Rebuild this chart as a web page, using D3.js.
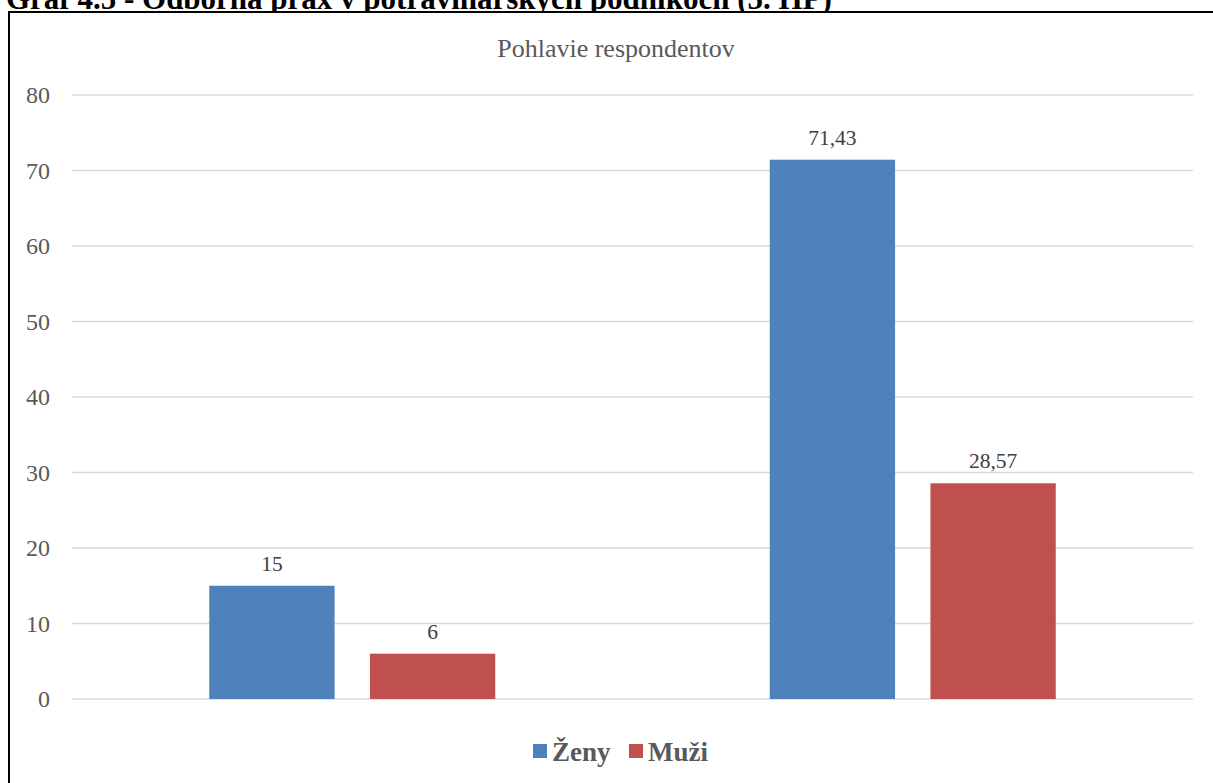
<!DOCTYPE html>
<html><head><meta charset="utf-8">
<script src="https://cdn.jsdelivr.net/npm/d3@7"></script>
<style>html,body{margin:0;padding:0;background:#fff;overflow:hidden}</style>
</head><body>
<script>
const categories = ["Skupina 1", "Skupina 2"];
const seriesNames = ["Ženy", "Muži"];
const zeny = [15, 71.43];
const muzi = [6, 28.57];
const yTicks = [0, 10, 20, 30, 40, 50, 60, 70, 80];
const colors = ["#4F81BD", "#C0504D"];

const W = 1213, H = 783;
const svg = d3.select("body").append("svg").attr("width", W).attr("height", H);
const serif = "'Liberation Serif','Times New Roman',serif";

// outer heading (cut off at top, as in the reference)
svg.append("text").attr("x", 6).attr("y", 9)
  .attr("font-family", serif).attr("font-weight", "bold").attr("font-size", 31)
  .attr("fill", "#000").text("Graf 4.5 - Odborná prax v potravinárskych podnikoch (5. HP)");
// frame
svg.append("rect").attr("x", 9).attr("y", 12).attr("width", 1240).attr("height", 800)
  .attr("fill", "#fff").attr("stroke", "#000").attr("stroke-width", 2);

const x0 = d3.scaleBand().domain(categories).range([72, 1193]);
const x1 = d3.scaleBand().domain(seriesNames).range([0, 286]).paddingInner(0.22);
const y = d3.scaleLinear().domain([0, 80]).range([699, 95]);

// gridlines
svg.append("g").selectAll("line").data(yTicks).join("line")
  .attr("x1", 72).attr("x2", 1193)
  .attr("y1", d => y(d)).attr("y2", d => y(d))
  .attr("stroke", "#d9d9d9").attr("stroke-width", 1.3);

// y axis labels
const ax = svg.append("g").attr("transform", "translate(50,0)")
  .call(d3.axisLeft(y).tickValues(yTicks).tickSize(0).tickPadding(0));
ax.select(".domain").remove();
ax.selectAll("text").attr("font-family", serif).attr("font-size", 24).attr("fill", "#595959");

// chart title
svg.append("text").attr("x", 616).attr("y", 57).attr("text-anchor", "middle")
  .attr("font-family", serif).attr("font-size", 26).attr("fill", "#595959")
  .text("Pohlavie respondentov");

const data = categories.map((c, i) => ({c, vals: [zeny[i], muzi[i]]}));
const fmt = v => String(v).replace(".", ",");
const groups = svg.append("g").selectAll("g").data(data).join("g")
  .attr("transform", d => `translate(${x0(d.c) + (x0.bandwidth() - 286) / 2},0)`);
groups.selectAll("rect").data(d => d.vals.map((v, j) => ({v, s: seriesNames[j], j}))).join("rect")
  .attr("x", d => x1(d.s)).attr("width", x1.bandwidth())
  .attr("y", d => y(d.v)).attr("height", d => y(0) - y(d.v))
  .attr("fill", d => colors[d.j]);
groups.selectAll("text").data(d => d.vals.map((v, j) => ({v, s: seriesNames[j], j}))).join("text")
  .attr("x", d => x1(d.s) + x1.bandwidth() / 2).attr("y", d => y(d.v) - 15)
  .attr("text-anchor", "middle").attr("font-family", serif).attr("font-size", 21.5)
  .attr("fill", "#404040").text(d => fmt(d.v));

// legend
const leg = svg.append("g");
const legX = [533, 629];
seriesNames.forEach((s, i) => {
  leg.append("rect").attr("x", legX[i]).attr("y", 744).attr("width", 14).attr("height", 14).attr("fill", colors[i]);
  leg.append("text").attr("x", legX[i] + 19).attr("y", 761)
    .attr("font-family", serif).attr("font-weight", "bold").attr("font-size", 27)
    .attr("fill", "#595959").text(s);
});
</script>
</body></html>
